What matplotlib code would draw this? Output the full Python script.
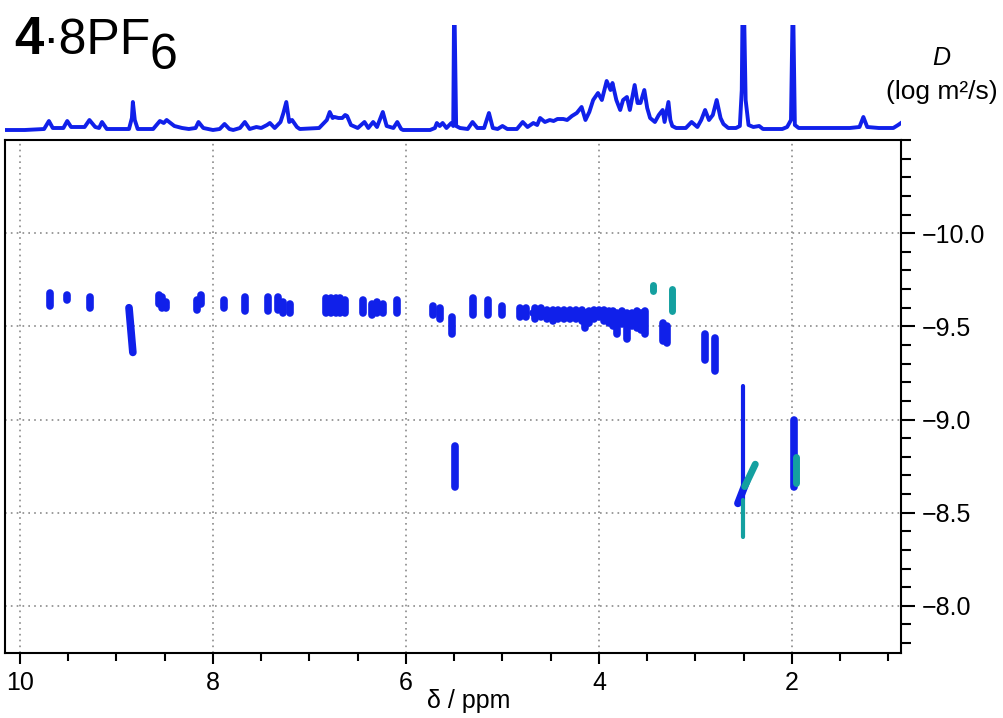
import matplotlib
matplotlib.use('Agg')
import matplotlib.pyplot as plt
from matplotlib.ticker import MultipleLocator

plt.rcParams['font.family'] = ['Liberation Sans', 'DejaVu Sans']

BLUE = '#1020ea'
TEAL = '#14a0a0'

# 1D 1H spectrum trace (ppm, relative intensity)
spec_ppm = [10.15, 9.95, 9.75, 9.70, 9.66, 9.55, 9.51, 9.47, 9.33, 9.28, 9.22, 9.18, 9.15, 9.10,
            8.87, 8.84, 8.83, 8.81, 8.78, 8.62, 8.55, 8.51, 8.48, 8.40, 8.32, 8.25, 8.18, 8.15, 8.10,
            8.00, 7.93, 7.88, 7.83, 7.79, 7.72, 7.67, 7.62, 7.55, 7.50, 7.44, 7.41, 7.36, 7.30, 7.27,
            7.24, 7.21, 7.18, 7.13, 7.10, 6.90, 6.82, 6.79, 6.76, 6.74, 6.70, 6.66, 6.63, 6.61, 6.57,
            6.50, 6.43, 6.39, 6.34, 6.30, 6.24, 6.20, 6.13, 6.09, 6.05, 6.03, 5.75, 5.70, 5.68, 5.65,
            5.62, 5.58, 5.53, 5.51, 5.50, 5.48, 5.44, 5.36, 5.31, 5.26, 5.19, 5.14, 5.10, 5.05, 5.00,
            4.95, 4.85, 4.79, 4.74, 4.68, 4.64, 4.61, 4.56, 4.51, 4.47, 4.43, 4.37, 4.33, 4.28, 4.23,
            4.18, 4.14, 4.10, 4.06, 4.01, 3.97, 3.92, 3.88, 3.86, 3.82, 3.78, 3.75, 3.71, 3.68, 3.63,
            3.60, 3.57, 3.53, 3.50, 3.47, 3.42, 3.38, 3.34, 3.32, 3.28, 3.26, 3.24, 3.20, 3.10, 3.04,
            2.98, 2.94, 2.90, 2.86, 2.82, 2.78, 2.74, 2.71, 2.66, 2.58, 2.54, 2.52, 2.51, 2.50, 2.48,
            2.45, 2.40, 2.34, 2.30, 2.10, 2.05, 2.01, 1.99, 1.97, 1.93, 1.60, 1.40, 1.30, 1.26, 1.22,
            1.10, 0.95, 0.90, 0.87]
spec_int = [0, 0, 1, 9, 2, 2, 9, 3, 3, 10, 3, 2, 8, 1,
            1, 12, 28, 10, 1, 1, 9, 7, 10, 4, 2, 1, 2, 8, 2,
            0, 1, 6, 1, 0, 2, 8, 1, 3, 2, 5, 7, 2, 8, 17,
            28, 8, 10, 3, 1, 2, 10, 18, 12, 13, 12, 12, 15, 14, 5,
            2, 8, 2, 8, 3, 18, 4, 2, 8, 1, 0, 0, 2, 7, 4,
            7, 2, 7, 4, 140, 4, 2, 1, 8, 2, 2, 17, 2, 1, 4,
            1, 1, 8, 3, 7, 5, 12, 8, 10, 9, 11, 11, 10, 14, 17,
            23, 10, 18, 30, 37, 30, 49, 40, 47, 30, 20, 30, 33, 20, 45,
            27, 27, 40, 22, 12, 8, 15, 20, 8, 28, 10, 4, 2, 2, 8,
            3, 10, 20, 10, 15, 30, 12, 6, 2, 2, 4, 40, 140, 140, 30,
            5, 3, 4, 1, 1, 3, 10, 140, 5, 2, 2, 2, 3, 13, 3,
            2, 2, 5, 7]

# DOSY cross peaks: (ppm start, logD start, ppm end, logD end)
blue_peaks = [
    (9.69, -9.68, 9.69, -9.61), (9.51, -9.67, 9.51, -9.64), (9.27, -9.66, 9.27, -9.60),
    (8.87, -9.60, 8.83, -9.36),
    (8.56, -9.67, 8.56, -9.62), (8.53, -9.66, 8.53, -9.60), (8.49, -9.63, 8.49, -9.60),
    (8.17, -9.64, 8.17, -9.59), (8.12, -9.67, 8.12, -9.62),
    (7.89, -9.64, 7.89, -9.60), (7.67, -9.66, 7.67, -9.58), (7.43, -9.66, 7.43, -9.58),
    (7.33, -9.66, 7.33, -9.59), (7.27, -9.63, 7.27, -9.57), (7.20, -9.62, 7.20, -9.57),
    (6.83, -9.65, 6.83, -9.57), (6.78, -9.65, 6.78, -9.57), (6.73, -9.65, 6.73, -9.57),
    (6.68, -9.65, 6.68, -9.57), (6.63, -9.64, 6.63, -9.57),
    (6.44, -9.64, 6.44, -9.57), (6.35, -9.62, 6.35, -9.56), (6.30, -9.63, 6.30, -9.57),
    (6.24, -9.62, 6.24, -9.57), (6.09, -9.64, 6.09, -9.57),
    (5.72, -9.61, 5.72, -9.56), (5.65, -9.60, 5.65, -9.54), (5.52, -9.55, 5.52, -9.46),
    (5.31, -9.65, 5.31, -9.56), (5.15, -9.64, 5.15, -9.56), (5.00, -9.61, 5.00, -9.56),
    (4.82, -9.60, 4.82, -9.55), (4.76, -9.60, 4.76, -9.55),
    (4.68, -9.57, 4.00, -9.57),
    (4.66, -9.60, 4.66, -9.54), (4.60, -9.60, 4.60, -9.55), (4.54, -9.59, 4.54, -9.54),
    (4.48, -9.59, 4.48, -9.53), (4.42, -9.59, 4.42, -9.54), (4.36, -9.59, 4.36, -9.54),
    (4.30, -9.59, 4.30, -9.54), (4.24, -9.59, 4.24, -9.54), (4.18, -9.59, 4.18, -9.53),
    (4.14, -9.57, 4.14, -9.49), (4.10, -9.58, 4.10, -9.52), (4.05, -9.59, 4.05, -9.54),
    (4.00, -9.59, 4.00, -9.55),
    (3.95, -9.59, 3.95, -9.53), (3.90, -9.58, 3.90, -9.52), (3.85, -9.58, 3.85, -9.50),
    (3.81, -9.57, 3.81, -9.46), (3.76, -9.58, 3.76, -9.51), (3.71, -9.57, 3.71, -9.43),
    (3.66, -9.57, 3.66, -9.50), (3.61, -9.58, 3.61, -9.49), (3.56, -9.57, 3.56, -9.48),
    (3.52, -9.58, 3.52, -9.46),
    (3.34, -9.52, 3.34, -9.42), (3.30, -9.50, 3.30, -9.41),
    (2.90, -9.46, 2.90, -9.32), (2.80, -9.44, 2.80, -9.26),
    (5.49, -8.86, 5.49, -8.64),
    (2.56, -8.55, 2.47, -8.67),
    (1.98, -9.00, 1.98, -8.64),
]
blue_thin = [(2.51, -9.18, 2.51, -8.57)]
teal_peaks = [
    (3.44, -9.72, 3.44, -9.69), (3.24, -9.70, 3.24, -9.58),
    (2.49, -8.64, 2.38, -8.76), (2.35, -8.71, 2.35, -8.71),
    (1.96, -8.80, 1.96, -8.66),
]
teal_thin = [(2.51, -8.57, 2.51, -8.37)]

xticks = [10, 8, 6, 4, 2]
xtick_labels = ['10', '8', '6', '4', '2']
yticks = [-10.0, -9.5, -9.0, -8.5, -8.0]
ytick_labels = ['\u221210.0', '\u22129.5', '\u22129.0', '\u22128.5', '\u22128.0']

W, H = 1004, 718
fig = plt.figure(figsize=(W / 100, H / 100), dpi=100)
ax = fig.add_axes([5 / W, 65 / H, 896 / W, 513 / H])
spec = fig.add_axes([5 / W, (H - 133) / H, 896 / W, 108 / H])

# 2D DOSY map
for p in blue_peaks:
    ax.plot([p[0], p[2]], [p[1], p[3]], color=BLUE, lw=5.5, solid_capstyle='round', zorder=3)
for p in blue_thin:
    ax.plot([p[0], p[2]], [p[1], p[3]], color=BLUE, lw=3, solid_capstyle='round', zorder=3)
for p in teal_peaks:
    ax.plot([p[0], p[2]], [p[1], p[3]], color=TEAL, lw=5, solid_capstyle='round', zorder=4)
for p in teal_thin:
    ax.plot([p[0], p[2]], [p[1], p[3]], color=TEAL, lw=3, solid_capstyle='round', zorder=4)

ax.set_xlim(10.155, 0.87)
ax.set_ylim(-7.747, -10.5)

ax.set_xticks(xticks)
ax.set_xticklabels(xtick_labels)
ax.xaxis.set_minor_locator(MultipleLocator(0.5))
ax.yaxis.tick_right()
ax.set_yticks(yticks)
ax.set_yticklabels(ytick_labels)
ax.yaxis.set_minor_locator(MultipleLocator(0.1))
ax.tick_params(axis='both', which='both', direction='out', width=1.5, labelsize=18, colors='black')
ax.tick_params(axis='x', which='major', length=8, pad=5)
ax.tick_params(axis='x', which='minor', length=6)
ax.tick_params(axis='y', which='major', length=10, pad=5)
ax.tick_params(axis='y', which='minor', length=7)
for s in ax.spines.values():
    s.set_linewidth(1.5)

ax.grid(True, which='major', color='#8a8a8a', linestyle=(0, (1, 2.5)), lw=1.2)
ax.set_axisbelow(True)

ax.set_xlabel('\u03b4 / ppm', fontsize=18)
ax.xaxis.set_label_coords(0.518, -0.071)

# 1D projection
spec.plot(spec_ppm, spec_int, color=BLUE, lw=2.8, solid_joinstyle='round')
spec.set_xlim(10.155, 0.87)
spec.set_ylim(-3, 105)
spec.axis('off')

# labels
fig.text(14 / W, 1 - 54 / H, '4', fontsize=38, fontweight='bold', va='baseline')
fig.text(42 / W, 1 - 54 / H, '\u00b78PF', fontsize=36, va='baseline')
fig.text(150 / W, 1 - 69 / H, '6', fontsize=36, va='baseline')
fig.text(941 / W, 1 - 65 / H, 'D', fontsize=18, style='italic', ha='center', va='baseline')
fig.text(942 / W, 1 - 99 / H, '(log m\u00b2/s)', fontsize=19, ha='center', va='baseline')

fig.savefig('out.png', dpi=100)
